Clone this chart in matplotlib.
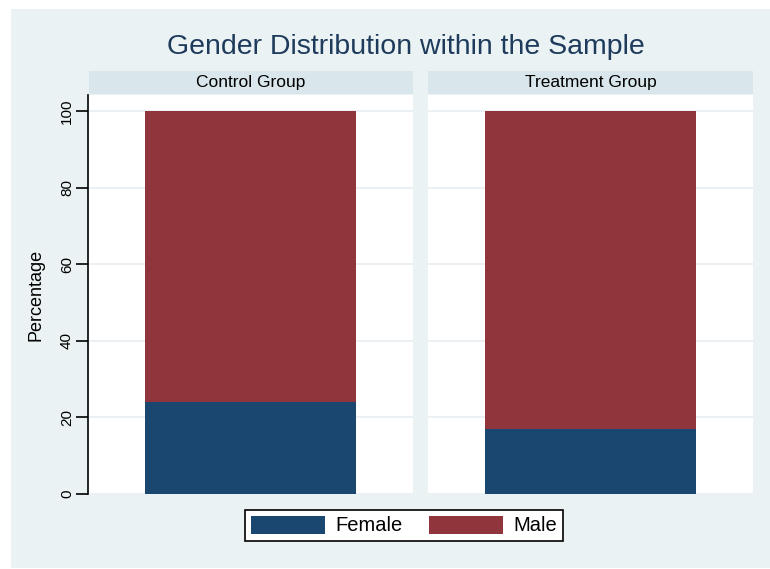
import matplotlib
matplotlib.use("Agg")
import matplotlib.pyplot as plt
from matplotlib.patches import Rectangle, Patch

plt.rcParams['font.family'] = ['Liberation Sans', 'DejaVu Sans']

groups = ['Control Group', 'Treatment Group']
female = [24, 17]
male = [76, 83]
yticks = [0, 20, 40, 60, 80, 100]

navy = '#1a476f'
maroon = '#90353b'
bg = '#eaf2f3'
strip = '#d9e6eb'

W, H = 770, 569
fig = plt.figure(figsize=(W / 100, H / 100), dpi=100)
fig.patch.set_facecolor('white')


def box(x0, y0, x1, y1):
    # pixel box (top-left origin) -> figure fraction rect
    return [x0 / W, 1 - y1 / H, (x1 - x0) / W, (y1 - y0) / H]


fig.add_artist(Rectangle((11 / W, 1 - 568 / H), (W - 11) / W, (568 - 9) / H,
                         transform=fig.transFigure, facecolor=bg, edgecolor='none', zorder=-10))

fig.text(406 / W, 1 - 47.5 / H, 'Gender Distribution within the Sample',
         ha='center', va='center', fontsize=20.5, color='#1e3b5c')

panels = [(88, 413), (428, 753)]
axes = []
for i, (x0, x1) in enumerate(panels):
    ax = fig.add_axes(box(x0, 95, x1, 494))
    ax.set_facecolor('white')
    ax.bar([0.5], [female[i]], width=0.65, color=navy, zorder=3)
    ax.bar([0.5], [male[i]], bottom=[female[i]], width=0.65, color=maroon, zorder=3)
    ax.set_xlim(0, 1)
    ax.set_ylim(0, 104.2)
    ax.set_yticks(yticks)
    ax.grid(axis='y', color='#e6eef1', linewidth=1.2, zorder=0)
    ax.set_xticks([])
    for s in ['top', 'right', 'bottom']:
        ax.spines[s].set_visible(False)
    if i == 0:
        ax.spines['left'].set_linewidth(1.2)
        ax.tick_params(axis='y', length=9, width=1.2, pad=1, labelsize=11, labelrotation=90)
        for lab in ax.get_yticklabels():
            lab.set_va('center')
        ax.set_ylabel('Percentage', fontsize=13, labelpad=11)
    else:
        ax.spines['left'].set_visible(False)
        ax.tick_params(axis='y', length=0, labelleft=False)
    sax = fig.add_axes(box(x0 if i else x0 + 1, 71, x1, 94))
    sax.set_facecolor(strip)
    sax.set_xticks([])
    sax.set_yticks([])
    for s in sax.spines.values():
        s.set_visible(False)
    sax.text(0.5, 0.5, groups[i], ha='center', va='center', fontsize=12.5, color='black')
    axes.append(ax)

handles = [Patch(facecolor=navy, edgecolor='none'), Patch(facecolor=maroon, edgecolor='none')]
leg = fig.legend(handles, ['Female', 'Male'], loc='center', bbox_to_anchor=(404 / W, 1 - 525.5 / H),
                 ncol=2, fontsize=14.5, handlelength=3.7, handleheight=1.0, columnspacing=1.3,
                 handletextpad=0.5, borderpad=0.3, fancybox=False, framealpha=1)
leg.get_frame().set_edgecolor('black')
leg.get_frame().set_linewidth(1.2)

fig.savefig('out.png', dpi=100)
